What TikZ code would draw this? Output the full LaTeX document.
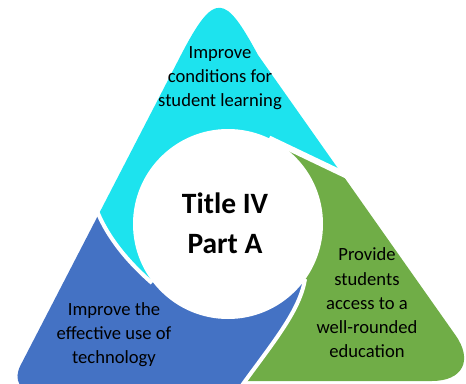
\documentclass[tikz,border=0pt]{standalone}
\usepackage{fontspec}
\setmainfont{Carlito}
\definecolor{segcyan}{RGB}{29,227,238}
\definecolor{segblue}{RGB}{68,114,196}
\definecolor{seggreen}{RGB}{112,173,71}
\begin{document}
\begin{tikzpicture}[x=1pt,y=-1pt,
  gapline/.style={draw=white,line width=#1},
  segtext/.style={align=center,text=black,font=\fontsize{18.6}{24.3}\selectfont},
  titletext/.style={align=center,text=black,font=\fontsize{29.5}{40}\selectfont\bfseries}]
\useasboundingbox (0,0) rectangle (466,383);
% outlines
\def\triA{(181,55) .. controls (214.7,-10) and (225,-6) .. (258,55) -- (495.6,392) -- (36.7,392) .. controls (20.1,392) and (12.9,380.1) .. (20.5,365.4) -- cycle}
\def\triB{(181,55) .. controls (214.7,-10) and (225,-6) .. (258,55) -- (455.5,335.2) .. controls (473.3,360.5) and (462.7,381) .. (431.8,381) -- (12.4,381) -- cycle}
% cyan segment
\begin{scope}
  \clip (228,224) -- (269,138.5) -- (422,211.6) -- (520,-60) -- (-60,-60) -- (85,182) -- (97,211) .. controls (108,238) and (128,262) .. (152,283) -- cycle;
  \fill[segcyan] \triA;
\end{scope}
% blue segment
\begin{scope}
  \clip (228,224) -- (152,283) .. controls (128,262) and (108,238) .. (97,211) -- (85,182) -- (-60,150) -- (-60,460) -- (231,460) -- (231,402) -- (243,384) .. controls (275,340) and (300,310) .. (305,279) -- cycle;
  \fill[segblue] \triA;
\end{scope}
% green segment
\begin{scope}
  \clip (228,224) -- (305,279) .. controls (300,310) and (275,340) .. (243,384) -- (231,402) -- (231,460) -- (560,460) -- (560,100) -- (422,211.6) -- (269,138.5) -- cycle;
  \fill[seggreen] \triB;
\end{scope}
% white gaps
\coordinate (aS) at (269,138.5);
\coordinate (aE) at (422,211.6);
\coordinate (bS) at (305,279);
\coordinate (bE) at (231,402);
\coordinate (cS) at (152,283);
\coordinate (cE) at (85,182);
\draw[gapline=6] (aS) -- (aE);
\draw[gapline=4] (bS) .. controls (300,310) and (275,340) .. (243,384) -- (bE);
\draw[gapline=4] (cS) .. controls (128,262) and (108,238) .. (97,211) -- (cE);
% centre circle
\fill[white] (228,224) circle[radius=95];
% texts
\node[titletext] (title) at (225,223) {Title IV\\Part A};
\node[segtext] (top) at (220,78) {Improve\\conditions for\\student learning};
\node[segtext] (right) at (367,303) {Provide\\students\\access to a\\well-rounded\\education};
\node[segtext] (left) at (114,334.5) {Improve the\\effective use of\\technology};
\end{tikzpicture}
\end{document}
